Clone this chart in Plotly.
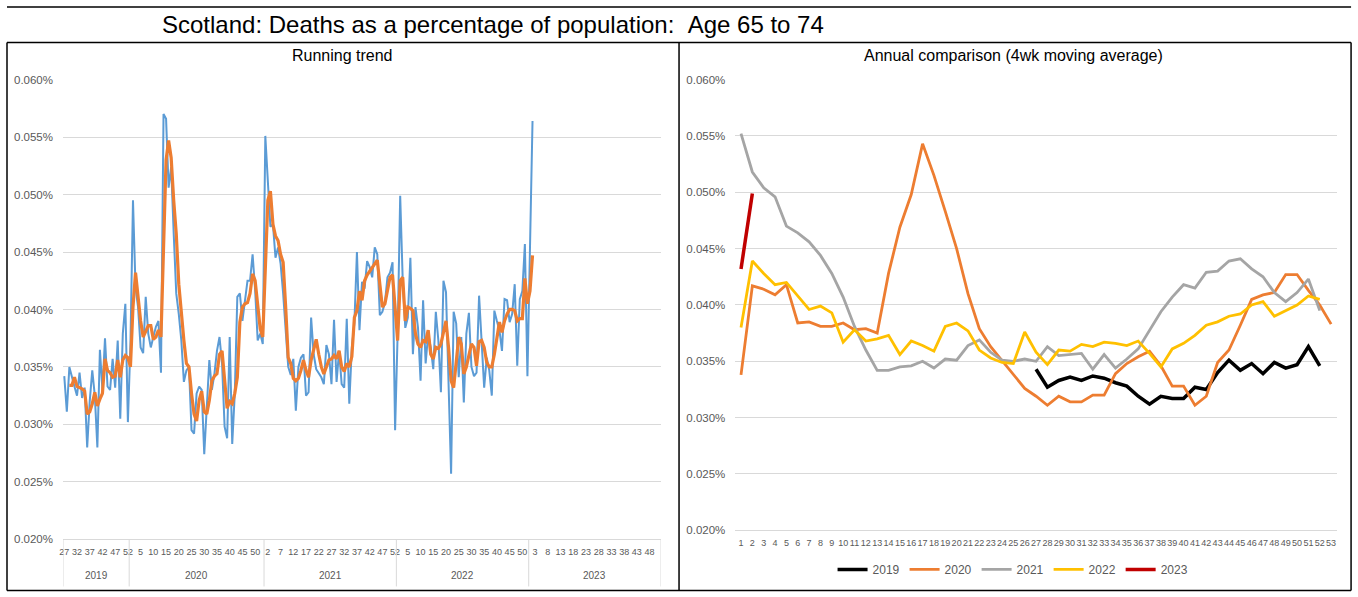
import plotly.graph_objects as go

# ---------------- DATA ----------------
# Left chart: weekly deaths as % of population (blue) and moving average (orange)
year_labels = ["2019", "2020", "2021", "2022", "2023"]
year_first_week = [27, 1, 1, 1, 1]
year_last_week = [52, 53, 52, 52, 52]

weekly_2019 = [0.0342, 0.0311, 0.0350, 0.0340, 0.0333, 0.0325, 0.0345, 0.0323, 0.0332, 0.0280,
               0.0320, 0.0347, 0.0325, 0.0280, 0.0365, 0.0330, 0.0375, 0.0333, 0.0330, 0.0357,
               0.0332, 0.0373, 0.0305, 0.0379, 0.0405, 0.0302]
weekly_2020 = [0.0370, 0.0495, 0.0419, 0.0402, 0.0367, 0.0362, 0.0411, 0.0379, 0.0367, 0.0376,
               0.0385, 0.0390, 0.0345, 0.0570, 0.0566, 0.0506, 0.0524, 0.0466, 0.0414, 0.0396,
               0.0373, 0.0337, 0.0347, 0.0350, 0.0295, 0.0292, 0.0327, 0.0333, 0.0330, 0.0274,
               0.0321, 0.0356, 0.0330, 0.0344, 0.0364, 0.0376, 0.0353, 0.0298, 0.0288, 0.0376,
               0.0283, 0.0327, 0.0411, 0.0414, 0.0390, 0.0408, 0.0425, 0.0425, 0.0448, 0.0417,
               0.0373, 0.0379, 0.0370]
weekly_2021 = [0.0551, 0.0515, 0.0472, 0.0474, 0.0445, 0.0454, 0.0440, 0.0414, 0.0379, 0.0350,
               0.0343, 0.0357, 0.0312, 0.0350, 0.0358, 0.0361, 0.0325, 0.0328, 0.0393, 0.0361,
               0.0348, 0.0344, 0.0341, 0.0335, 0.0369, 0.0361, 0.0335, 0.0391, 0.0337, 0.0364,
               0.0335, 0.0332, 0.0392, 0.0318, 0.0367, 0.0388, 0.0450, 0.0382, 0.0424, 0.0418,
               0.0442, 0.0437, 0.0428, 0.0454, 0.0448, 0.0395, 0.0398, 0.0406, 0.0428, 0.0432,
               0.0441, 0.0295]
weekly_2022 = [0.0379, 0.0499, 0.0425, 0.0384, 0.0393, 0.0445, 0.0361, 0.0402, 0.0384, 0.0338,
               0.0408, 0.0353, 0.0379, 0.0367, 0.0348, 0.0398, 0.0373, 0.0328, 0.0425, 0.0415,
               0.0335, 0.0257, 0.0398, 0.0388, 0.0341, 0.0376, 0.0319, 0.0379, 0.0397, 0.0350,
               0.0342, 0.0345, 0.0412, 0.0373, 0.0332, 0.0358, 0.0347, 0.0325, 0.0399, 0.0390,
               0.0382, 0.0364, 0.0409, 0.0408, 0.0389, 0.0396, 0.0422, 0.0351, 0.0409, 0.0416,
               0.0457, 0.0342]
weekly_2023 = [0.0450, 0.0564]

trend_start_week_2019 = 29
trend_2019 = [0.0334, 0.0334, 0.0341, 0.0333, 0.0332, 0.0331, 0.0329, 0.0309, 0.0311, 0.0318,
              0.0328, 0.0316, 0.0322, 0.0327, 0.0357, 0.0347, 0.0345, 0.0341, 0.0342, 0.0356,
              0.0341, 0.0356, 0.0360, 0.0358]
trend_2020 = [0.0350, 0.0402, 0.0432, 0.0408, 0.0390, 0.0376, 0.0382, 0.0386, 0.0386, 0.0374,
              0.0376, 0.0382, 0.0376, 0.0451, 0.0530, 0.0547, 0.0532, 0.0495, 0.0466, 0.0422,
              0.0393, 0.0373, 0.0353, 0.0350, 0.0327, 0.0309, 0.0303, 0.0321, 0.0329, 0.0311,
              0.0309, 0.0321, 0.0338, 0.0342, 0.0344, 0.0361, 0.0364, 0.0338, 0.0314, 0.0320,
              0.0318, 0.0327, 0.0341, 0.0389, 0.0402, 0.0405, 0.0406, 0.0414, 0.0431, 0.0425,
              0.0402, 0.0383, 0.0376]
trend_2021 = [0.0437, 0.0495, 0.0503, 0.0474, 0.0464, 0.0460, 0.0448, 0.0441, 0.0402, 0.0358,
              0.0353, 0.0340, 0.0338, 0.0340, 0.0347, 0.0356, 0.0347, 0.0341, 0.0356, 0.0364,
              0.0374, 0.0361, 0.0350, 0.0344, 0.0350, 0.0356, 0.0357, 0.0360, 0.0357, 0.0364,
              0.0350, 0.0346, 0.0353, 0.0350, 0.0359, 0.0393, 0.0399, 0.0416, 0.0408, 0.0425,
              0.0430, 0.0433, 0.0437, 0.0440, 0.0443, 0.0422, 0.0402, 0.0405, 0.0416, 0.0428,
              0.0430, 0.0399]
trend_2022 = [0.0373, 0.0425, 0.0428, 0.0390, 0.0402, 0.0401, 0.0399, 0.0379, 0.0370, 0.0367,
              0.0373, 0.0372, 0.0382, 0.0361, 0.0357, 0.0367, 0.0366, 0.0370, 0.0379, 0.0390,
              0.0367, 0.0338, 0.0332, 0.0353, 0.0376, 0.0370, 0.0344, 0.0350, 0.0361, 0.0370,
              0.0367, 0.0351, 0.0372, 0.0373, 0.0367, 0.0354, 0.0350, 0.0350, 0.0361, 0.0376,
              0.0389, 0.0380, 0.0390, 0.0396, 0.0400, 0.0400, 0.0399, 0.0390, 0.0392, 0.0392,
              0.0427, 0.0405]
trend_2023 = [0.0416, 0.0447]

# Right chart: annual comparison (4wk moving average), by week number
annual_weeks = list(range(1, 54))
annual_2019_start = 27
annual_2019 = [0.0343, 0.0327, 0.0333, 0.0336, 0.0333, 0.0337, 0.0335, 0.0331, 0.0328, 0.0319,
               0.0312, 0.0319, 0.0317, 0.0317, 0.0327, 0.0325, 0.0340, 0.0351, 0.0342, 0.0348,
               0.0339, 0.0349, 0.0344, 0.0347, 0.0363, 0.0346]
annual_2020 = [0.0338, 0.0417, 0.0414, 0.0409, 0.0418, 0.0384, 0.0385, 0.0381, 0.0381, 0.0384,
               0.0378, 0.0379, 0.0375, 0.0428, 0.0469, 0.0498, 0.0543, 0.0515, 0.0483, 0.0450,
               0.0410, 0.0379, 0.0363, 0.0351, 0.0338, 0.0326, 0.0319, 0.0311, 0.0319, 0.0314,
               0.0314, 0.0320, 0.0320, 0.0339, 0.0348, 0.0354, 0.0359, 0.0346, 0.0328, 0.0328,
               0.0311, 0.0319, 0.0349, 0.0360, 0.0382, 0.0405, 0.0409, 0.0411, 0.0427, 0.0427,
               0.0413, 0.0400, 0.0383]
annual_2021 = [0.0552, 0.0518, 0.0504, 0.0496, 0.0470, 0.0464, 0.0456, 0.0444, 0.0428, 0.0407,
               0.0381, 0.0360, 0.0342, 0.0342, 0.0345, 0.0346, 0.0350, 0.0344, 0.0352, 0.0351,
               0.0364, 0.0369, 0.0358, 0.0351, 0.0350, 0.0352, 0.0350, 0.0363, 0.0355, 0.0356,
               0.0357, 0.0343, 0.0356, 0.0344, 0.0352, 0.0361, 0.0377, 0.0394, 0.0407, 0.0418,
               0.0415, 0.0429, 0.0430, 0.0439, 0.0441, 0.0432, 0.0425, 0.0411, 0.0403, 0.0411,
               0.0423, 0.0395]
annual_2022 = [0.0380, 0.0439, 0.0428, 0.0418, 0.0420, 0.0408, 0.0396, 0.0399, 0.0393, 0.0367,
               0.0378, 0.0368, 0.0370, 0.0373, 0.0356, 0.0368, 0.0364, 0.0359, 0.0381, 0.0384,
               0.0377, 0.0360, 0.0353, 0.0349, 0.0348, 0.0376, 0.0358, 0.0347, 0.0360, 0.0359,
               0.0365, 0.0363, 0.0367, 0.0366, 0.0364, 0.0368, 0.0357, 0.0345, 0.0361, 0.0366,
               0.0373, 0.0382, 0.0385, 0.0390, 0.0392, 0.0400, 0.0403, 0.0390, 0.0395, 0.0400,
               0.0408, 0.0405]
annual_2023 = [0.0432, 0.0499]

y_ticks = [0.020, 0.025, 0.030, 0.035, 0.040, 0.045, 0.050, 0.055, 0.060]

# ---------------- LAYOUT HELPERS ----------------
W, H = 1358, 597
def px(x):
    return ((x - 4.0) / 0.997) / W
def py(y):
    return 1 - ((y - 5.5) / 0.98) / H

FONT = "Liberation Sans"
TICKCOL = "#595959"
GRID = "#d9d9d9"

# Build left-axis categories (year, week)
cats = []
year_bounds = []
for yl, fw, lw in zip(year_labels, year_first_week, year_last_week):
    start = len(cats)
    for w in range(fw, lw + 1):
        cats.append((yl, w))
    year_bounds.append((start, len(cats)))

weekly_all = weekly_2019 + weekly_2020 + weekly_2021 + weekly_2022 + weekly_2023
trend_all = trend_2019 + trend_2020 + trend_2021 + trend_2022 + trend_2023
trend_offset = trend_start_week_2019 - year_first_week[0]

fig = go.Figure()

fig.add_trace(go.Scatter(
    x=list(range(len(weekly_all))), y=weekly_all, mode="lines",
    line=dict(color="#5b9bd5", width=2), showlegend=False,
    xaxis="x", yaxis="y", hoverinfo="skip"))
fig.add_trace(go.Scatter(
    x=list(range(trend_offset, trend_offset + len(trend_all))), y=trend_all, mode="lines",
    line=dict(color="#ed7d31", width=3.2), showlegend=False,
    xaxis="x", yaxis="y", hoverinfo="skip"))

annual_series = [
    ("2019", annual_2019_start, annual_2019, "#000000", 3.5),
    ("2020", 1, annual_2020, "#ed7d31", 2.8),
    ("2021", 1, annual_2021, "#a5a5a5", 2.8),
    ("2022", 1, annual_2022, "#ffc000", 2.8),
    ("2023", 1, annual_2023, "#c00000", 3.5),
]
for name, start, vals, col, wd in annual_series:
    fig.add_trace(go.Scatter(
        x=list(range(start, start + len(vals))), y=vals, mode="lines", name=name,
        line=dict(color=col, width=wd), xaxis="x2", yaxis="y2", hoverinfo="skip"))

tickvals_left = list(range(0, len(cats), 5))
ticktext_left = [str(cats[i][1]) for i in tickvals_left]

shapes = []
# year separators under left axis
for s, e in year_bounds:
    shapes.append(dict(type="line", xref="x", yref="paper", x0=s - 0.5, x1=s - 0.5,
                       y0=py(539), y1=py(586), line=dict(color=GRID, width=1)))
shapes.append(dict(type="line", xref="x", yref="paper", x0=year_bounds[-1][1] - 0.5,
                   x1=year_bounds[-1][1] - 0.5, y0=py(539), y1=py(586),
                   line=dict(color=GRID, width=1)))
# frame
frame = dict(color="black", width=1.5)
shapes += [
    dict(type="line", xref="paper", yref="paper", x0=px(7), x1=px(1351), y0=py(6.5), y1=py(6.5), line=frame),
    dict(type="line", xref="paper", yref="paper", x0=px(7), x1=px(1351), y0=py(42), y1=py(42), line=frame),
    dict(type="line", xref="paper", yref="paper", x0=px(7), x1=px(1351), y0=py(590), y1=py(590), line=frame),
    dict(type="line", xref="paper", yref="paper", x0=px(7), x1=px(7), y0=py(42), y1=py(590), line=frame),
    dict(type="line", xref="paper", yref="paper", x0=px(679), x1=px(679), y0=py(42), y1=py(590), line=frame),
    dict(type="line", xref="paper", yref="paper", x0=px(1351), x1=px(1351), y0=py(42), y1=py(590), line=frame),
]

annotations = [
    dict(text="Scotland: Deaths as a percentage of population:\u00a0\u00a0Age 65 to 74",
         xref="paper", yref="paper", x=px(160), y=py(24), xanchor="left", yanchor="middle",
         showarrow=False, font=dict(family=FONT, size=24, color="black")),
    dict(text="Running trend", xref="paper", yref="paper", x=px(342), y=py(55),
         xanchor="center", yanchor="middle", showarrow=False,
         font=dict(family=FONT, size=16, color="black")),
    dict(text="Annual comparison (4wk moving average)", xref="paper", yref="paper",
         x=px(1013), y=py(55), xanchor="center", yanchor="middle", showarrow=False,
         font=dict(family=FONT, size=16, color="black")),
]
for (s, e), yl in zip(year_bounds, year_labels):
    annotations.append(dict(text=yl, xref="x", yref="paper", x=(s + e - 1) / 2, y=py(575),
                            xanchor="center", yanchor="middle", showarrow=False,
                            font=dict(family=FONT, size=10, color=TICKCOL)))

yaxis_common = dict(range=[0.01999, 0.06001], tickvals=y_ticks,
                    ticktext=[f"{v:.3f}%" for v in y_ticks],
                    showgrid=True, gridcolor=GRID, gridwidth=1, zeroline=False,
                    showline=False, ticks="", ticklabelstandoff=9,
                    tickfont=dict(family=FONT, size=11.5, color=TICKCOL), fixedrange=True)

fig.update_layout(
    width=W, height=H, autosize=False,
    margin=dict(l=0, r=0, t=0, b=0),
    paper_bgcolor="white", plot_bgcolor="white",
    xaxis=dict(domain=[px(63), px(661)], range=[-0.5, len(cats) - 0.5], anchor="y",
               tickmode="array", tickvals=tickvals_left, ticktext=ticktext_left,
               showgrid=False, zeroline=False, showline=True, linecolor=GRID, linewidth=1,
               ticks="", ticklabelstandoff=4,
               tickfont=dict(family=FONT, size=9, color=TICKCOL), tickangle=0),
    yaxis=dict(domain=[py(539), py(79)], anchor="x", **yaxis_common),
    xaxis2=dict(domain=[px(735.3), px(1336.7)], range=[0.5, 53.5], anchor="y2",
                tickmode="array", tickvals=annual_weeks, ticktext=[str(w) for w in annual_weeks],
                showgrid=False, zeroline=False, showline=True, linecolor=GRID, linewidth=1,
                ticks="", ticklabelstandoff=4,
                tickfont=dict(family=FONT, size=9, color=TICKCOL), tickangle=0),
    yaxis2=dict(domain=[py(530), py(79)], anchor="x2", **yaxis_common),
    legend=dict(orientation="h", x=px(1013), xanchor="center", y=py(569), yanchor="middle",
                font=dict(family=FONT, size=12, color=TICKCOL), itemwidth=30,
                bgcolor="rgba(0,0,0,0)", traceorder="normal"),
    shapes=shapes,
    annotations=annotations,
)

post = (
    "document.documentElement.style.margin='0';"
    "document.body.style.margin='0';document.body.style.padding='0';"
    "document.body.style.overflow='hidden';"
)
fig.write_html("out.html", config={"displayModeBar": False}, post_script=post)
